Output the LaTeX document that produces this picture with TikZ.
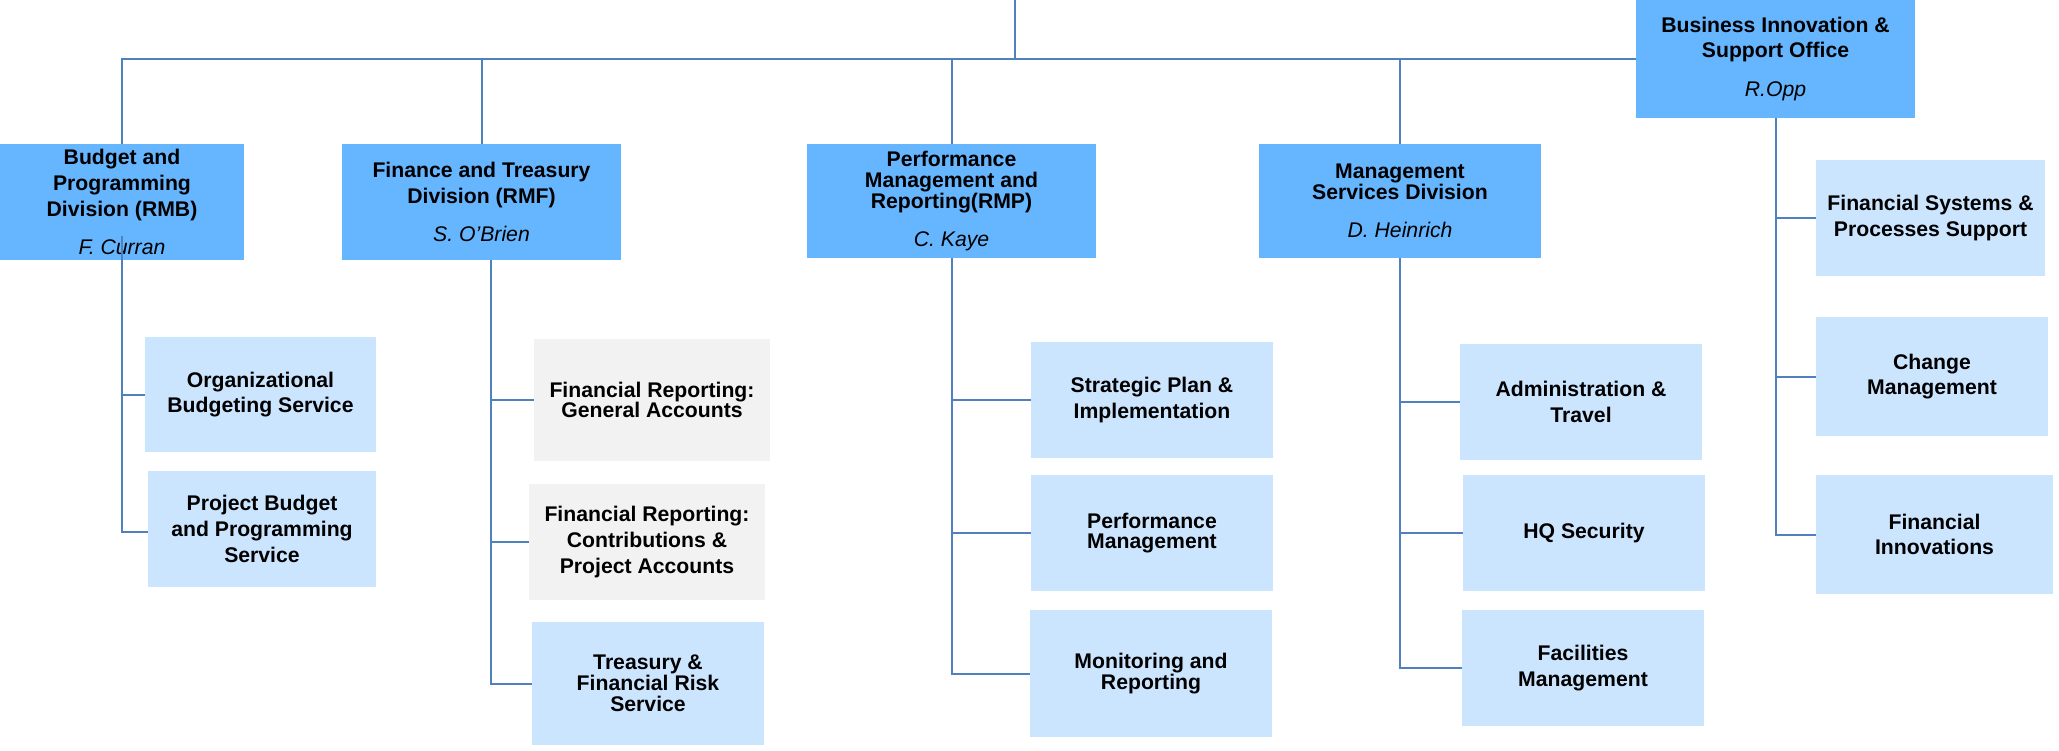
\documentclass[tikz,border=0pt]{standalone}
\usepackage{fontspec}
\setmainfont{Liberation Sans}
\definecolor{darkfill}{RGB}{102,181,255}
\definecolor{lightfill}{RGB}{204,229,255}
\definecolor{greyfill}{RGB}{242,242,242}
\definecolor{connblue}{RGB}{79,129,189}
\begin{document}
\begin{tikzpicture}[x=0.5pt,y=-0.5pt,
  box/.style={rectangle, inner sep=0pt, outer sep=0pt, align=center, text=black},
  sz/.style 2 args={minimum width=#1*0.5pt, minimum height=#2*0.5pt},
  div/.style={box, fill=darkfill},
  sub/.style={box, fill=lightfill},
  subgray/.style={box, fill=greyfill},
  wide/.style={font=\bfseries\fontsize{10.6}{12.8}\selectfont},
  narrow/.style={font=\bfseries\fontsize{10.6}{10.4}\selectfont},
  conn/.style={draw=connblue, line width=1pt}]
\useasboundingbox (0,0) rectangle (2059,750);

% divisions
\node[div, wide, sz={244}{116}] (rmb) at (122,202) {Budget and\\Programming\\Division (RMB)\\[6.2pt]{\mdseries\itshape F. Curran}};
\node[div, wide, sz={279}{116}] (rmf) at (481.5,202) {Finance and Treasury\\Division (RMF)\\[6.2pt]{\mdseries\itshape S. O'Brien}};
\node[div, narrow, sz={289}{114}] (rmp) at (951.5,201) {Performance\\Management and\\Reporting(RMP)\\[8.6pt]{\mdseries\itshape C. Kaye}};
\node[div, narrow, sz={282}{114}] (msd) at (1400,201) {Management\\Services Division\\[8.6pt]{\mdseries\itshape D. Heinrich}};
\node[div, wide, sz={279}{118}] (bis) at (1775.5,59) {Business Innovation \&\\Support Office\\[6.5pt]{\mdseries\itshape R.Opp}};

% children
\node[sub, wide, sz={231}{115}] (obs) at (260.5,394.5) {Organizational\\Budgeting Service};
\node[sub, wide, sz={228}{116}] (pbps) at (262,529) {Project Budget\\and Programming\\Service};
\node[subgray, narrow, sz={236}{122}] (frga) at (652,400) {Financial Reporting:\\General Accounts};
\node[subgray, wide, sz={236}{116}] (frcp) at (647,542) {Financial Reporting:\\Contributions \&\\Project Accounts};
\node[sub, narrow, sz={232}{123}] (tfrs) at (648,683.5) {Treasury \&\\Financial Risk\\Service};
\node[sub, wide, sz={242}{116}] (spi) at (1152,400) {Strategic Plan \&\\Implementation};
\node[sub, narrow, sz={242}{116}] (pm) at (1152,533) {Performance\\Management};
\node[sub, narrow, sz={242}{127}] (mr) at (1151,673.5) {Monitoring and\\Reporting};
\node[sub, wide, sz={242}{116}] (at) at (1581,402) {Administration \&\\Travel};
\node[sub, wide, sz={242}{116}] (hq) at (1584,533) {HQ Security};
\node[sub, wide, sz={242}{116}] (fm) at (1583,668) {Facilities\\Management};
\node[sub, wide, sz={229}{116}] (fsps) at (1930.5,218) {Financial Systems \&\\Processes Support};
\node[sub, wide, sz={232}{119}] (cm) at (1932,376.5) {Change\\Management};
\node[sub, wide, sz={237}{119}] (fi) at (1934.5,534.5) {Financial\\Innovations};

% top connectors
\coordinate (topin) at (1015,0);
\draw[conn] (rmb.north) |- (bis.west);
\draw[conn] (rmf.north) -- (rmf.north |- bis.west);
\draw[conn] (rmp.north) -- (rmp.north |- bis.west);
\draw[conn] (msd.north) -- (msd.north |- bis.west);
\draw[conn] (topin) -- (topin |- bis.west);

% child connectors
\coordinate (rmbb) at ([yshift=12pt]rmb.south);
\draw[conn] (rmbb) |- (obs.west);
\draw[conn] (rmbb) |- ([yshift=-1.5pt]pbps.west);
\coordinate (rmfb) at ([xshift=4.75pt]rmf.south);
\draw[conn] (rmfb) |- (frga.west);
\draw[conn] (rmfb) |- (frcp.west);
\draw[conn] (rmfb) |- (tfrs.west);
\draw[conn] (rmp.south) |- (spi.west);
\draw[conn] (rmp.south) |- (pm.west);
\draw[conn] (rmp.south) |- (mr.west);
\draw[conn] (msd.south) |- (at.west);
\draw[conn] (msd.south) |- (hq.west);
\draw[conn] (msd.south) |- (fm.west);
\draw[conn] (bis.south) |- (fsps.west);
\draw[conn] (bis.south) |- (cm.west);
\draw[conn] (bis.south) |- (fi.west);
\end{tikzpicture}
\end{document}
